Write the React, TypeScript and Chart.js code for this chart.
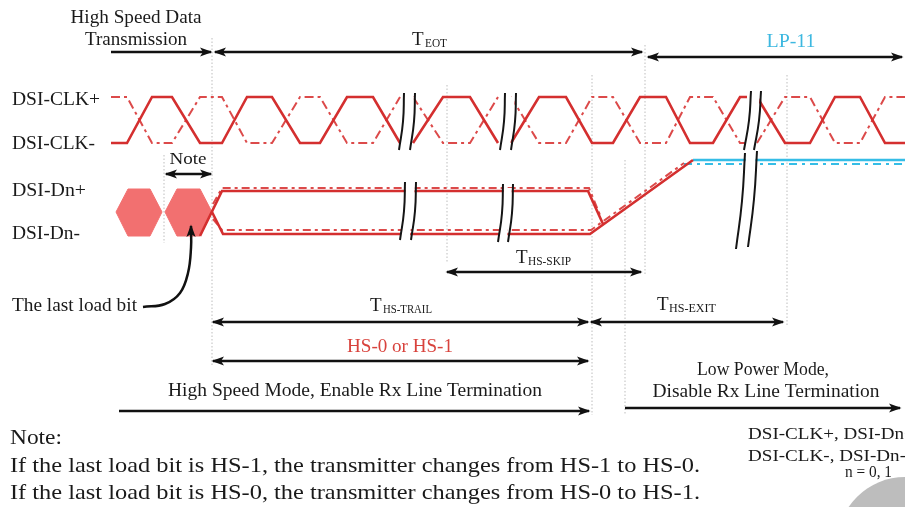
import { useEffect, useRef } from "react";
import { Chart, registerables } from "chart.js";
Chart.register(...registerables);

const CANVAS_W = 905;
const CANVAS_H = 507;

// ---------- clock lane (DSI-CLK+ solid, DSI-CLK- dash-dot) ----------
const CLK_HIGH = 97;
const CLK_LOW = 143;
// edge instants and logic level of DSI-CLK+ at each instant, split by the break marks
const clkTimes1 = [111, 127, 152, 172, 200, 222, 247, 272, 300, 320, 347, 373, 400];
const clkLevels1 = [0, 0, 1, 1, 0, 0, 1, 1, 0, 0, 1, 1, 0];
const clkTimes2 = [413, 443, 470, 498];
const clkLevels2 = [0, 1, 1, 0];
const clkTimes3 = [511, 539, 566, 592, 613, 640, 666, 690, 713, 740, 747];
const clkLevels3 = [0, 1, 1, 0, 0, 1, 1, 0, 0, 1, 1];
const clkTimes4 = [757, 785, 810, 835, 860, 885, 905];
const clkLevels4 = [1, 0, 0, 1, 1, 0, 0];

// ---------- data lane ----------
const dnSolidA = [[200, 236], [222, 191], [588, 191], [603, 224]];
const dnSolidB = [[212, 212], [223, 234], [590, 234], [693, 160]];
const dnDashA = [[213, 204], [222, 188], [589, 188], [600, 215]];
const dnDashB = [[213, 219], [222, 230], [591, 230], [684, 163]];
const lp11Solid = [[693, 160], [905, 160]];
const lp11Dash = [[684, 164], [905, 164]];
const lastBits = [
  [[116, 212], [128, 189], [150, 189], [162, 212], [150, 236], [128, 236], [116, 212]],
  [[165, 212], [177, 189], [200, 189], [212, 212], [200, 236], [177, 236], [165, 212]],
];

// ---------- break marks (top x, top y, bottom x, bottom y), in pairs ----------
const breakMarks = [
  [404, 93, 399, 150], [415, 93, 410, 150],
  [505, 93, 500, 150], [516, 93, 511, 150],
  [751, 91, 744, 150], [761, 91, 754, 150],
  [405, 182, 400, 240], [416, 182, 411, 240],
  [503, 184, 498, 242], [513, 184, 508, 242],
  [745, 153, 736, 249], [757, 151, 748, 247],
];

// ---------- timing markers (vertical guides: x, y from, y to) ----------
const guides = [
  [164, 155, 243], [212, 38, 365], [447, 85, 262], [592, 75, 415],
  [625, 160, 415], [645, 45, 275], [787, 75, 325],
];

// ---------- interval arrows: x1, x2, y, heads ----------
const intervals: [number, number, number, string][] = [
  [111, 211, 52, "end"],
  [215, 642, 52, "both"],
  [648, 902, 57, "both"],
  [166, 211, 174, "both"],
  [447, 641, 272, "both"],
  [213, 588, 322, "both"],
  [591, 783, 322, "both"],
  [213, 588, 361, "both"],
  [119, 589, 411, "end"],
  [625, 900, 408, "end"],
];
const lastBitPointer = [[143, 307], [165, 304], [180, 293], [188, 273], [191, 248], [191, 226]];

// ---------- text ----------
type Label = { t: string; x: number; y: number; size: number; align?: "left" | "center"; color?: string; w?: number; ref?: string };
const labels: Label[] = [
  { t: "High Speed Data", x: 136, y: 18, size: 18, align: "center", w: 131 },
  { t: "Transmission", x: 136, y: 40, size: 18, align: "center", w: 102 },
  { t: "T", x: 412, y: 40, size: 19 },
  { t: "EOT", x: 425, y: 44, size: 11.5, w: 22 },
  { t: "LP-11", x: 791, y: 42, size: 18, align: "center", color: "#3db8e0", w: 49 },
  { t: "DSI-CLK+", x: 12, y: 100, size: 18, w: 88 },
  { t: "DSI-CLK-", x: 12, y: 144, size: 18, w: 83 },
  { t: "Note", x: 188, y: 160, size: 17, align: "center", w: 37 },
  { t: "DSI-Dn+", x: 12, y: 191, size: 18, w: 74 },
  { t: "DSI-Dn-", x: 12, y: 234, size: 18, w: 68 },
  { t: "T", x: 516, y: 258, size: 19 },
  { t: "HS-SKIP", x: 528, y: 262, size: 11.5, w: 43 },
  { t: "The last load bit", x: 12, y: 306, size: 18, w: 125 },
  { t: "T", x: 370, y: 306, size: 19 },
  { t: "HS-TRAIL", x: 383, y: 310, size: 11.5, w: 49 },
  { t: "T", x: 657, y: 305, size: 19 },
  { t: "HS-EXIT", x: 669, y: 309, size: 11.5, w: 47 },
  { t: "HS-0 or HS-1", x: 400, y: 347, size: 18, align: "center", color: "#d8423c", w: 106 },
  { t: "High Speed Mode, Enable Rx Line Termination", x: 355, y: 391, size: 18, align: "center", w: 374 },
  { t: "Low Power Mode,", x: 763, y: 370, size: 18, align: "center", w: 132 },
  { t: "Disable Rx Line Termination", x: 766, y: 392, size: 18, align: "center", w: 227 },
  { t: "Note:", x: 10, y: 438, size: 21, w: 52 },
  { t: "If the last load bit is HS-1, the transmitter changes from HS-1 to HS-0.", x: 10, y: 466, size: 21, w: 690 },
  { t: "If the last load bit is HS-0, the transmitter changes from HS-0 to HS-1.", x: 10, y: 493, size: 21, w: 690 },
  { t: "DSI-CLK+, DSI-Dn+", x: 748, y: 435, size: 17, w: 156, ref: "DSI-CLK+, DSI-Dn" },
  { t: "DSI-CLK-, DSI-Dn-", x: 748, y: 457, size: 17, w: 158 },
  { t: "n = 0, 1", x: 845, y: 473, size: 16, w: 47 },
];

const RED = "#d42f2f";
const RED_DASH = "#dc4a4a";
const CYAN = "#35bde6";
const FONT = '"Liberation Serif", "Times New Roman", serif';

const P = (pts: number[][]) => pts.map(([x, y]) => ({ x, y }));

function line(pts: number[][], color: string, width: number, dash: number[] = [], order = 10, extra: any = {}) {
  return {
    data: P(pts),
    showLine: true,
    borderColor: color,
    borderWidth: width,
    borderDash: dash,
    pointRadius: 0,
    fill: false,
    tension: 0,
    order,
    ...extra,
  };
}

function buildDatasets() {
  const ds: any[] = [];
  guides.forEach(([x, y1, y2]) => ds.push(line([[x, y1], [x, y2]], "#bdbdbd", 1, [1.5, 2], 20)));
  const segs = [
    [clkTimes1, clkLevels1],
    [clkTimes2, clkLevels2],
    [clkTimes3, clkLevels3],
    [clkTimes4, clkLevels4],
  ];
  segs.forEach(([ts, ls]) => {
    const hi = ts.map((t, k) => [t, ls[k] ? CLK_HIGH : CLK_LOW]);
    const lo = ts.map((t, k) => [t, ls[k] ? CLK_LOW : CLK_HIGH]);
    ds.push(line(lo, RED_DASH, 2, [9, 4, 3, 4], 12));
    ds.push(line(hi, RED, 2.6, [], 11));
  });
  lastBits.forEach((h) =>
    ds.push(line(h, "#f27070", 1, [], 12, { fill: "shape", backgroundColor: "#f27070" }))
  );
  ds.push(line(dnDashA, RED_DASH, 2, [8, 4, 3, 4], 12));
  ds.push(line(dnDashB, RED_DASH, 2, [8, 4, 3, 4], 12));
  ds.push(line(dnSolidA, RED, 2.6, [], 11));
  ds.push(line(dnSolidB, RED, 2.6, [], 11));
  ds.push(line(lp11Dash, CYAN, 2, [8, 5, 3, 5], 12));
  ds.push(line(lp11Solid, CYAN, 2.6, [], 11));
  // white gaps between paired break marks
  for (let i = 0; i < breakMarks.length; i += 2) {
    const a = breakMarks[i];
    const b = breakMarks[i + 1];
    const quad = [[a[0] + 1, a[1] + 4], [b[0] - 1, b[1] + 4], [b[2] - 1, b[3] - 4], [a[2] + 1, a[3] - 4], [a[0] + 1, a[1] + 4]];
    ds.push(line(quad, "rgba(255,255,255,0)", 0, [], 5, { fill: "shape", backgroundColor: "#ffffff" }));
  }
  breakMarks.forEach(([x1, y1, x2, y2]) => {
    const mid = [(x1 + x2) / 2 + 1.5, (y1 + y2) / 2];
    ds.push(line([[x1, y1], mid, [x2, y2]], "#151515", 2, [], 2, { tension: 0.5 }));
  });
  intervals.forEach(([x1, x2, y, heads]) =>
    ds.push(line([[x1, y], [x2, y]], "#111111", 2.5, [], 3, { arrow: heads }))
  );
  ds.push(line(lastBitPointer, "#111111", 2.5, [], 3, { tension: 0.4, arrow: "end" }));
  ds.push({
    data: [{ x: 905, y: 545 }],
    showLine: false,
    pointRadius: 68,
    pointBorderWidth: 0,
    pointBackgroundColor: "#bdbdbd",
    pointBorderColor: "#bdbdbd",
    order: 1,
  });
  return ds;
}

function head(ctx: CanvasRenderingContext2D, x: number, y: number, fx: number, fy: number) {
  const a = Math.atan2(y - fy, x - fx);
  const len = 11;
  const half = 4.6;
  const bx = x - len * Math.cos(a);
  const by = y - len * Math.sin(a);
  ctx.beginPath();
  ctx.moveTo(x + 1.5 * Math.cos(a), y + 1.5 * Math.sin(a));
  ctx.lineTo(bx + half * Math.sin(a), by - half * Math.cos(a));
  ctx.lineTo(bx + 3 * Math.cos(a), by + 3 * Math.sin(a));
  ctx.lineTo(bx - half * Math.sin(a), by + half * Math.cos(a));
  ctx.closePath();
  ctx.fill();
}

const overlay = {
  id: "overlay",
  afterDatasetsDraw(chart: any) {
    const ctx: CanvasRenderingContext2D = chart.ctx;
    const xs = chart.scales.x;
    const ys = chart.scales.y;
    ctx.save();
    ctx.fillStyle = "#111111";
    chart.data.datasets.forEach((d: any, i: number) => {
      if (!d.arrow) return;
      const pts = chart.getDatasetMeta(i).data;
      const n = pts.length;
      if (d.arrow === "end" || d.arrow === "both") head(ctx, pts[n - 1].x, pts[n - 1].y, pts[n - 2].x, pts[n - 2].y);
      if (d.arrow === "start" || d.arrow === "both") head(ctx, pts[0].x, pts[0].y, pts[1].x, pts[1].y);
    });
    ctx.restore();
    labels.forEach((l) => {
      ctx.save();
      ctx.font = `${l.size}px ${FONT}`;
      ctx.fillStyle = l.color || "#1a1a1a";
      ctx.textBaseline = "middle";
      ctx.textAlign = "left";
      const m = ctx.measureText(l.ref || l.t).width;
      const sx = l.w ? l.w / m : 1;
      const full = ctx.measureText(l.t).width * sx;
      let px = xs.getPixelForValue(l.x);
      if (l.align === "center") px -= full / 2;
      ctx.translate(px, ys.getPixelForValue(l.y));
      ctx.scale(sx, 1);
      ctx.fillText(l.t, 0, 0);
      ctx.restore();
    });
  },
};

export default function App() {
  const ref = useRef<HTMLCanvasElement>(null);
  useEffect(() => {
    document.body.style.margin = "0";
    const chart = new Chart(ref.current as HTMLCanvasElement, {
      type: "scatter",
      data: { datasets: buildDatasets() },
      options: {
        responsive: false,
        animation: false,
        events: [],
        layout: { padding: 0, autoPadding: false },
        plugins: { legend: { display: false }, tooltip: { enabled: false } },
        scales: {
          x: { type: "linear", min: 0, max: CANVAS_W, display: false },
          y: { type: "linear", min: 0, max: CANVAS_H, reverse: true, display: false },
        },
      } as any,
      plugins: [overlay],
    });
    return () => chart.destroy();
  }, []);
  return (
    <div style={{ position: "absolute", left: 0, top: 0, width: CANVAS_W, height: CANVAS_H, background: "#ffffff" }}>
      <canvas ref={ref} width={CANVAS_W} height={CANVAS_H} style={{ display: "block", width: CANVAS_W, height: CANVAS_H }} />
    </div>
  );
}
